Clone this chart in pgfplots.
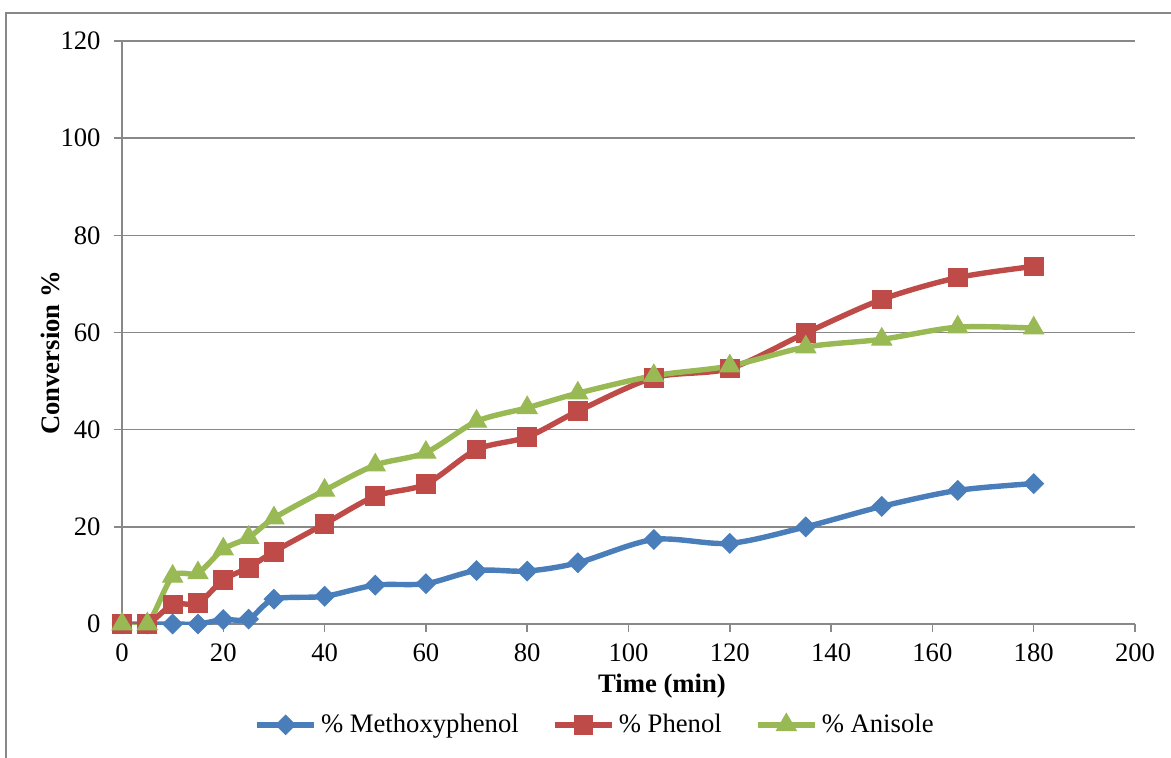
\documentclass[border=0pt]{standalone}
\usepackage{fontspec}
\setmainfont{Liberation Serif}
\usepackage{pgfplots}
\pgfplotsset{compat=1.18}

\definecolor{mxblue}{HTML}{4A7EBB}
\definecolor{phred}{HTML}{BE4B48}
\definecolor{angreen}{HTML}{98B954}
\definecolor{gridgray}{HTML}{888888}

\pgfplotstableread{
t    mx    ph    an
0    0.0   0.0   0.0
5    0.0   0.0   0.0
10   0.0   4.0   9.8
15   0.0   4.3   10.5
20   0.9   9.1   15.4
25   1.0   11.6  17.8
30   5.1   14.9  21.8
40   5.7   20.6  27.5
50   8.0   26.3  32.7
60   8.3   28.8  35.3
70   11.0  35.9  41.7
80   10.9  38.5  44.5
90   12.6  43.8  47.5
105  17.4  50.7  51.1
120  16.6  52.6  53.1
135  20.0  59.9  57.0
150  24.2  66.8  58.6
165  27.5  71.3  61.1
180  28.9  73.6  60.9
}\conv

\begin{document}
\fontsize{12.8}{15}\selectfont
\begin{tikzpicture}
% page frame and bounding box
\path[use as bounding box] (-58.56pt,-64.32pt) rectangle (503.52pt,299.52pt);
\draw[gridgray, line width=0.7pt] (-55.68pt,-80pt) -- (-55.68pt,293.28pt) -- (520pt,293.28pt);
\begin{axis}[
  at={(0pt,0pt)}, anchor=south west,
  scale only axis,
  width=486.24pt, height=279.84pt,
  xmin=0, xmax=200, ymin=0, ymax=120,
  xtick={0,20,...,200}, ytick={0,20,...,120},
  axis lines*=left,
  axis line style={gridgray, line width=0.7pt},
  tick style={gridgray, line width=0.7pt},
  tick align=outside,
  major tick length=3.84pt,
  ymajorgrids,
  grid style={gridgray, line width=0.7pt},
  /pgf/number format/assume math mode=true,
  yticklabel style={xshift=-2pt},
  xticklabel style={yshift=-1pt},
  xlabel={\textbf{Time (min)}},
  ylabel={\textbf{Conversion \%}},
  every axis x label/.style={at={(axis description cs:0.533,-0.118)}, anchor=base},
  every axis y label/.style={at={(axis description cs:-0.0711,0.465)}, anchor=center, rotate=90},
  legend columns=3,
  legend style={at={(axis description cs:0.468,-0.173)}, anchor=center, draw=none,
    fill=none, font=\fontsize{12.8}{15}\selectfont,
    /tikz/every even column/.append style={column sep=14pt}},
  legend image code/.code={\draw[mark repeat=2,mark phase=2,#1] plot coordinates {(0pt,0pt) (13.7pt,0pt) (27.4pt,0pt)};},
  every axis plot/.append style={line width=2.6pt, smooth, tension=0.5},
]
\addplot[mxblue, mark=square*, mark size=3.3pt, mark options={rotate=45, solid, line width=0.5pt}] table[x=t, y=mx] {\conv};
\addlegendentry{\% Methoxyphenol}
\addplot[phred, mark=square*, mark size=4.5pt, mark options={solid, line width=0.5pt}] table[x=t, y=ph] {\conv};
\addlegendentry{\% Phenol}
\addplot[angreen, mark=triangle*, mark size=5.5pt, mark options={solid, line width=0.5pt}] table[x=t, y=an] {\conv};
\addlegendentry{\% Anisole}
\end{axis}
\end{tikzpicture}
\end{document}
